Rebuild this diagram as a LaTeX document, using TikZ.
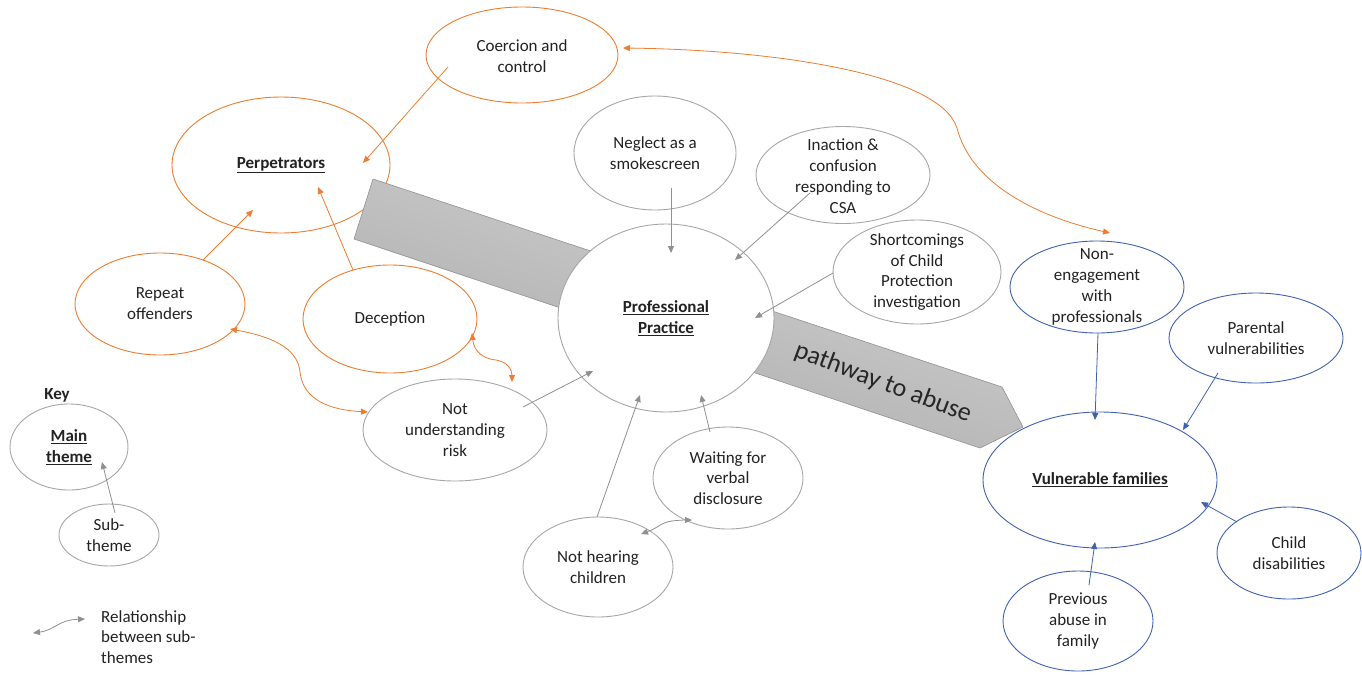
\documentclass[tikz,border=0pt]{standalone}
\usepackage{fontspec}
\setmainfont{Carlito}
\usetikzlibrary{shapes.geometric,arrows.meta,calc}
\definecolor{org}{HTML}{ED7D31}
\definecolor{blu}{HTML}{3F62B0}
\definecolor{gry}{HTML}{A6A6A6}
\definecolor{garr}{HTML}{909090}
\definecolor{txt}{HTML}{222222}
\tikzset{
  el/.style={ellipse, draw, fill=white, inner sep=0pt, line width=0.9pt},
  oel/.style={el, draw=org},
  gel/.style={el, draw=gry},
  bel/.style={el, draw=blu},
  tx/.style={align=center, font=\fontsize{17}{20.8}\selectfont, inner sep=0pt, text=txt},
  tip/.style={-{Triangle[length=7pt,width=6pt]}},
  dtip/.style={{Triangle[length=7pt,width=6pt]}-{Triangle[length=7pt,width=6pt]}},
  oarr/.style={tip, draw=org, line width=0.8pt},
  garrow/.style={tip, draw=garr, line width=0.8pt},
  barr/.style={tip, draw=blu, line width=0.8pt},
  orel/.style={dtip, draw=org, line width=0.8pt},
  grel/.style={dtip, draw=garr, line width=0.8pt},
}
\begin{document}
\begin{tikzpicture}[x=1pt,y=-1pt]
\useasboundingbox (0,0) rectangle (1362,675);
\fill[white] (0,0) rectangle (1362,675);

% ---- perpetrators cluster (orange)
\node[oel, minimum width=192, minimum height=96] (coe) at (522,55) {};
\node[tx] at ($(coe)+(0,1)$) {Coercion and\\control};
\node[oel, minimum width=218, minimum height=136] (perp) at (281,165) {};
\node[tx] at (perp) {\textbf{\underline{Perpetrators}}};
\node[oel, minimum width=170, minimum height=102] (rep) at (160,304) {};
\node[tx] at (rep) {Repeat\\offenders};
\node[oel, minimum width=174, minimum height=108] (dec) at (390,319) {};
\node[tx] at (dec) {Deception};

% ---- big pathway arrow
\shade[top color={rgb,255:red,212;green,212;blue,212}, bottom color={rgb,255:red,168;green,168;blue,168}, shading angle=-18, draw={rgb,255:red,145;green,145;blue,145}, line width=0.6pt]
  (373,179) -- (1002,387) -- (1023,427) -- (980,448) -- (354,239) -- cycle;
\node[rotate=-20.5, font=\fontsize{26}{26}\selectfont, text=black!85, inner sep=0pt] (pw) at (883,383) {pathway to abuse};

% ---- professional practice cluster (grey)
\node[gel, minimum width=216, minimum height=188] (pp) at (666,318) {};
\node[tx] at (pp) {\textbf{\underline{Professional}}\\\textbf{\underline{Practice}}};
\node[gel, minimum width=162, minimum height=114] (neg) at (655,153) {};
\node[tx] at (neg) {Neglect as a\\smokescreen};
\node[gel, minimum width=174, minimum height=97] (ina) at (843,175) {};
\node[tx] at ($(ina)+(0,1)$) {Inaction \&\\confusion\\responding to\\CSA};
\node[gel, minimum width=168, minimum height=104] (sho) at (917,272) {};
\node[tx] at (sho) {Shortcomings\\of Child\\Protection\\investigation};
\node[gel, minimum width=184, minimum height=102] (nur) at (455,430) {};
\node[tx] at (nur) {Not\\understanding\\risk};
\node[gel, minimum width=150, minimum height=102] (wai) at (728,478) {};
\node[tx] at (wai) {Waiting for\\verbal\\disclosure};
\node[gel, minimum width=150, minimum height=100] (nhc) at (598,567) {};
\node[tx] at (nhc) {Not hearing\\children};

% ---- vulnerable families cluster (blue)
\node[bel, minimum width=234, minimum height=136] (vf) at (1100,480) {};
\node[tx] at (vf) {\textbf{\underline{Vulnerable families}}};
\node[bel, minimum width=174, minimum height=92] (nen) at (1097,287) {};
\node[tx] at (nen) {Non-\\engagement\\with\\professionals};
\node[bel, minimum width=174, minimum height=90] (par) at (1256,338) {};
\node[tx] at (par) {Parental\\vulnerabilities};
\node[bel, minimum width=144, minimum height=92] (chd) at (1289,553) {};
\node[tx] at (chd) {Child\\disabilities};
\node[bel, minimum width=150, minimum height=100] (pre) at (1078,621) {};
\node[tx] at (pre) {Previous\\abuse in\\family};

% ---- key
\node[tx, font=\fontsize{17}{20.8}\selectfont\bfseries] (key) at (57,395) {Key};
\node[gel, minimum width=118, minimum height=86] (mt) at (69,447) {};
\node[tx] at (mt) {\textbf{\underline{Main}}\\\textbf{\underline{theme}}};
\node[gel, minimum width=100, minimum height=62] (st) at (109,535) {};
\node[tx] at (st) {Sub-\\theme};
\coordinate (lg1) at (33,633);
\coordinate (lg2) at (85,619);
\node[tx, align=left, anchor=north west] (lgt) at (101,610) {Relationship\\between sub-\\themes};

% ---- orange connectors
\draw[oarr] ($(coe)+(-74,12)$) -- ($(perp)+(82,-2)$);
\draw[oarr] ($(rep)+(43,-44)$) -- ($(perp)+(-28,45)$);
\draw[oarr] ($(dec)+(-37,-49)$) -- ($(perp)+(37,22)$);
\draw[orel]
  ($(rep)+(70,25)$) .. controls (280,338) and (298,352) .. (300,372)
  .. controls (303,400) and (330,410) .. ($(nur)+(-87,-18)$);
\draw[orel]
  ($(dec)+(82,14)$) .. controls (474,352) and (484,359) .. (496,360)
  .. controls (508,362) and (512,370) .. ($(nur)+(57,-48)$);
\draw[orel]
  ($(coe)+(101,-7)$) .. controls (780,50) and (940,75) .. (957,128)
  .. controls (970,180) and (1030,215) .. ($(nen)+(13,-54)$);

% ---- grey connectors
\draw[garrow] ($(neg)+(16,35)$) -- ($(pp)+(5,-65)$);
\draw[garrow] ($(ina)+(-33,18)$) -- ($(pp)+(69,-58)$);
\draw[garrow] ($(sho)+(-84,1)$) -- ($(pp)+(89,0)$);
\draw[garrow] ($(nur)+(68,-23)$) -- ($(pp)+(-73,53)$);
\draw[garrow] ($(nhc)+(-1,-50)$) -- ($(pp)+(-26,77)$);
\draw[garrow] ($(wai)+(-18,-46)$) -- ($(pp)+(35,77)$);
\draw[grel]
  ($(nhc)+(43,-33)$) .. controls (658,528) and (662,522) .. (672,521)
  .. controls (680,520) and (686,520) .. ($(wai)+(-36,42)$);
\draw[garrow] ($(st)+(6,-22)$) -- ($(mt)+(33,15)$);
\draw[grel] (lg1) .. controls (55,630) and (58,620) .. (lg2);

% ---- blue connectors
\draw[barr] ($(nen)+(1,46)$) -- ($(vf)+(-5,-60)$);
\draw[barr] ($(par)+(-38,35)$) -- ($(vf)+(83,-50)$);
\draw[barr] ($(chd)+(-52,-31)$) -- ($(vf)+(101,22)$);
\draw[barr] ($(pre)+(11,-36)$) -- ($(vf)+(-5,62)$);
\end{tikzpicture}
\end{document}
